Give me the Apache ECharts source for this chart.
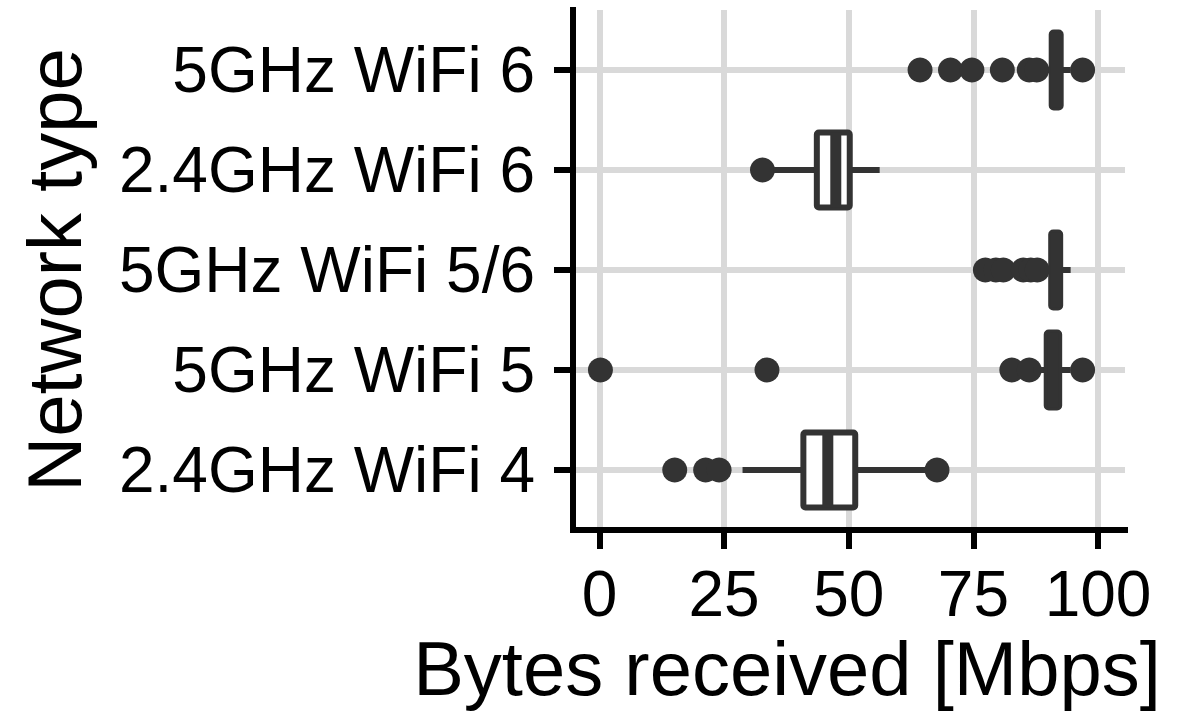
<!DOCTYPE html>
<html>
<head>
<meta charset="utf-8">
<title>Bytes received by network type</title>
<script src="https://cdn.jsdelivr.net/npm/echarts@6/dist/echarts.min.js"></script>
<style>
  html, body { margin: 0; padding: 0; background: #ffffff; }
  #chart { width: 1182px; height: 716px; }
</style>
</head>
<body>
<div id="chart"></div>
<script>
// Network types, bottom row first (row n sits at y = n on the value axis)
const categories = ['2.4GHz WiFi 4', '5GHz WiFi 5', '5GHz WiFi 5/6', '2.4GHz WiFi 6', '5GHz WiFi 6'];

// Box statistics per network type [Mbps]
const whiskerLow  = [28.7, 87.0, 88.5, 35.0, 88.5];
const quartile1   = [40.9, 89.7, 90.6, 43.6, 90.7];
const medians     = [45.8, 91.0, 91.5, 47.4, 91.6];
const quartile3   = [51.3, 92.2, 92.4, 50.2, 92.5];
const whiskerHigh = [66.0, 94.5, 94.5, 56.2, 94.5];

// Outlying measurements per network type [Mbps]
const outliers = [
  [15.1, 21.3, 24.0, 67.7],
  [0.2, 33.6, 82.7, 86.2, 96.9],
  [77.4, 79.5, 81.0, 85.0, 86.5, 87.8],
  [32.7],
  [64.3, 70.4, 74.7, 80.8, 86.2, 87.7, 96.9]
];

// Axis ticks
const xTicks = [0, 25, 50, 75, 100];
const yTicks = [1, 2, 3, 4, 5];

const INK = '#333333';
const GRID = '#d9d9d9';
const FONT = "'Liberation Sans', Arial, Helvetica, sans-serif";
const BOX_HEIGHT = 0.75; // in row units

const boxData = categories.map((c, i) => [i + 1, whiskerLow[i], quartile1[i], medians[i], quartile3[i], whiskerHigh[i]]);
const pointData = [];
outliers.forEach((vals, i) => vals.forEach(v => pointData.push([v, i + 1])));

function renderBox(params, api) {
  const row = api.value(0);
  const lo = api.coord([api.value(1), row]);
  const a = api.coord([api.value(2), row]);
  const m = api.coord([api.value(3), row]);
  const b = api.coord([api.value(4), row]);
  const hi = api.coord([api.value(5), row]);
  const half = Math.abs(api.size([0, BOX_HEIGHT])[1]) / 2;
  const cy = a[1];
  return {
    type: 'group',
    children: [
      { type: 'line', shape: { x1: lo[0], y1: cy, x2: a[0], y2: cy },
        style: { stroke: INK, lineWidth: 6 } },
      { type: 'line', shape: { x1: b[0], y1: cy, x2: hi[0], y2: cy },
        style: { stroke: INK, lineWidth: 6 } },
      { type: 'rect', shape: { x: a[0], y: cy - half, width: b[0] - a[0], height: 2 * half, r: 2 },
        style: { fill: '#ffffff', stroke: INK, lineWidth: 6, lineJoin: 'round' } },
      { type: 'line', shape: { x1: m[0], y1: cy - half, x2: m[0], y2: cy + half },
        style: { stroke: INK, lineWidth: 11 } }
    ]
  };
}

const chart = echarts.init(document.getElementById('chart'), null, { renderer: 'svg' });

chart.setOption({
  backgroundColor: '#ffffff',
  animation: false,
  grid: { left: 573, right: 57, top: 10, bottom: 186, containLabel: false },
  xAxis: {
    type: 'value',
    min: -5.3,
    max: 105.4,
    name: 'Bytes received [Mbps]',
    nameLocation: 'middle',
    nameGap: 100,
    nameTextStyle: { fontFamily: FONT, fontSize: 76, color: '#000000', padding: [0, 124, 0, 0] },
    axisLine: { show: true, onZero: false, lineStyle: { color: '#000000', width: 6, cap: 'square' } },
    axisTick: { show: true, customValues: xTicks, length: 19, lineStyle: { color: '#000000', width: 6 } },
    axisLabel: { customValues: xTicks, fontFamily: FONT, fontSize: 64, color: '#000000', margin: 32 },
    splitLine: { show: true, lineStyle: { color: GRID, width: 6 } }
  },
  yAxis: {
    type: 'value',
    min: 0.4,
    max: 5.6,
    name: 'Network type',
    nameLocation: 'middle',
    nameRotate: 90,
    nameGap: 481,
    nameTextStyle: { fontFamily: FONT, fontSize: 76, color: '#000000' },
    axisLine: { show: true, onZero: false, lineStyle: { color: '#000000', width: 6, cap: 'square' } },
    axisTick: { show: true, customValues: yTicks, length: 19, lineStyle: { color: '#000000', width: 6 } },
    axisLabel: {
      customValues: yTicks,
      fontFamily: FONT, fontSize: 64, color: '#000000', margin: 38,
      formatter: v => categories[Math.round(v) - 1]
    },
    splitLine: { show: true, lineStyle: { color: GRID, width: 6 } }
  },
  series: [
    {
      name: 'Outliers',
      type: 'scatter',
      z: 2,
      symbol: 'circle',
      symbolSize: 25,
      itemStyle: { color: INK, opacity: 1 },
      data: pointData
    },
    {
      name: 'Boxes',
      type: 'custom',
      z: 3,
      renderItem: renderBox,
      encode: { x: [1, 2, 3, 4, 5], y: 0 },
      data: boxData
    }
  ]
});
</script>
</body>
</html>
